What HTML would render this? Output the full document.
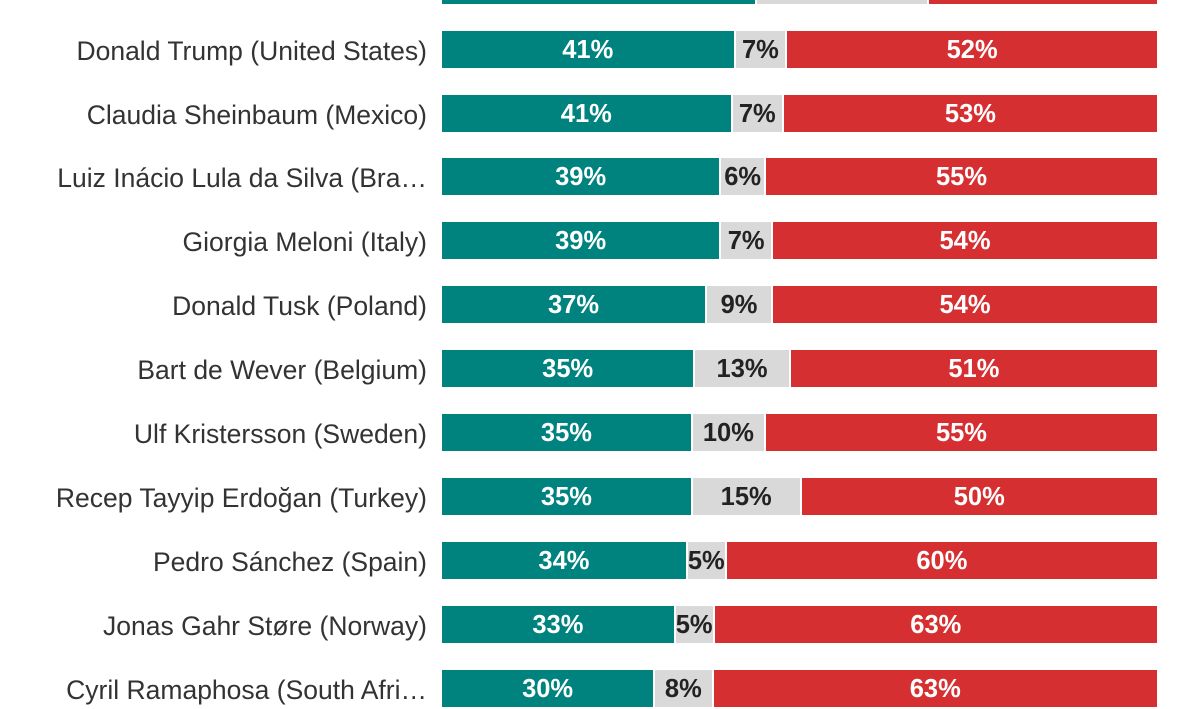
<!DOCTYPE html>
<html><head><style>
body{margin:0;width:1200px;height:706px;background:#fff;position:relative;overflow:hidden;font-family:"Liberation Sans",sans-serif}
.row{position:absolute;left:0;width:1200px;height:37px}
.lab{position:absolute;right:773px;top:2px;height:37px;line-height:37px;font-size:26.5px;color:#333;white-space:nowrap}
.bar{position:absolute;left:442px;width:715px;height:37px;display:flex}
.bar div{height:37px;line-height:39px;text-align:center;font-weight:bold;font-size:25.5px;box-sizing:border-box;white-space:nowrap;overflow:visible}
.t{background:#00827f;color:#fff}
.g{background:#d9d9d9;color:#222;border-left:2px solid #fff;border-right:2px solid #fff}
.r{background:#d62f31;color:#fff}
</style></head><body>
<div class="row" style="top:-33px"><div class="bar"><div class="t" style="flex:44"></div><div class="g" style="flex:24"></div><div class="r" style="flex:32"></div></div></div>
<div class="row" style="top:31px"><div class="lab">Donald Trump (United States)</div><div class="bar"><div class="t" style="flex:41">41%</div><div class="g" style="flex:7">7%</div><div class="r" style="flex:52">52%</div></div></div>
<div class="row" style="top:95px"><div class="lab">Claudia Sheinbaum (Mexico)</div><div class="bar"><div class="t" style="flex:41">41%</div><div class="g" style="flex:7">7%</div><div class="r" style="flex:53">53%</div></div></div>
<div class="row" style="top:158px"><div class="lab">Luiz Inácio Lula da Silva (Bra…</div><div class="bar"><div class="t" style="flex:39">39%</div><div class="g" style="flex:6">6%</div><div class="r" style="flex:55">55%</div></div></div>
<div class="row" style="top:222px"><div class="lab">Giorgia Meloni (Italy)</div><div class="bar"><div class="t" style="flex:39">39%</div><div class="g" style="flex:7">7%</div><div class="r" style="flex:54">54%</div></div></div>
<div class="row" style="top:286px"><div class="lab">Donald Tusk (Poland)</div><div class="bar"><div class="t" style="flex:37">37%</div><div class="g" style="flex:9">9%</div><div class="r" style="flex:54">54%</div></div></div>
<div class="row" style="top:350px"><div class="lab">Bart de Wever (Belgium)</div><div class="bar"><div class="t" style="flex:35">35%</div><div class="g" style="flex:13">13%</div><div class="r" style="flex:51">51%</div></div></div>
<div class="row" style="top:414px"><div class="lab">Ulf Kristersson (Sweden)</div><div class="bar"><div class="t" style="flex:35">35%</div><div class="g" style="flex:10">10%</div><div class="r" style="flex:55">55%</div></div></div>
<div class="row" style="top:478px"><div class="lab">Recep Tayyip Erdoğan (Turkey)</div><div class="bar"><div class="t" style="flex:35">35%</div><div class="g" style="flex:15">15%</div><div class="r" style="flex:50">50%</div></div></div>
<div class="row" style="top:542px"><div class="lab">Pedro Sánchez (Spain)</div><div class="bar"><div class="t" style="flex:34">34%</div><div class="g" style="flex:5">5%</div><div class="r" style="flex:60">60%</div></div></div>
<div class="row" style="top:606px"><div class="lab">Jonas Gahr Støre (Norway)</div><div class="bar"><div class="t" style="flex:33">33%</div><div class="g" style="flex:5">5%</div><div class="r" style="flex:63">63%</div></div></div>
<div class="row" style="top:670px"><div class="lab">Cyril Ramaphosa (South Afri…</div><div class="bar"><div class="t" style="flex:30">30%</div><div class="g" style="flex:8">8%</div><div class="r" style="flex:63">63%</div></div></div>
</body></html>
